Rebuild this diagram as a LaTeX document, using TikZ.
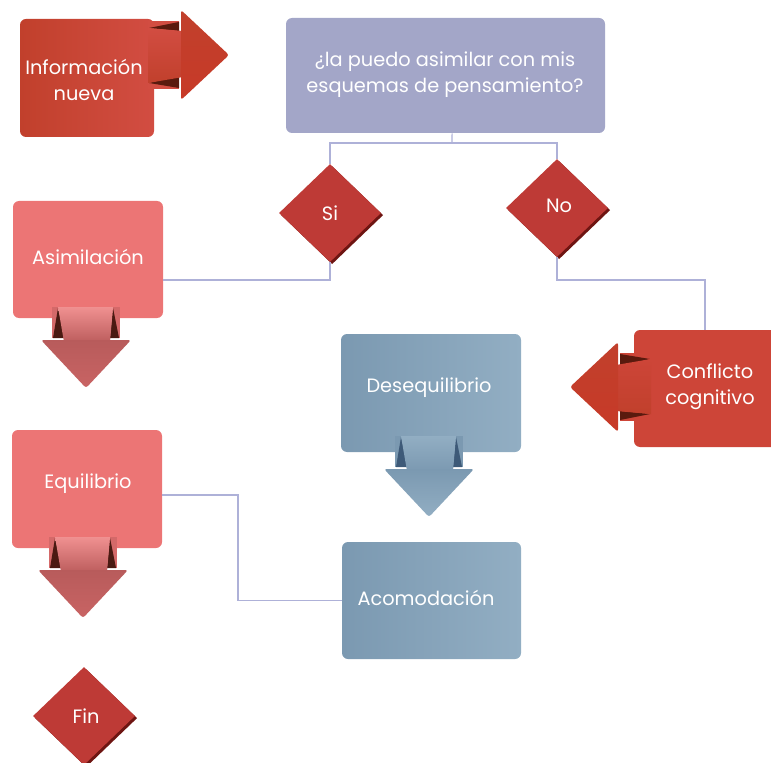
\documentclass[tikz,border=0pt]{standalone}
\usepackage{fontspec}
\setmainfont{Poppins}
\usetikzlibrary{shapes.geometric,shadows,calc}
\definecolor{infoL}{HTML}{C1402C}
\definecolor{infoR}{HTML}{D24D42}
\definecolor{quest}{HTML}{A3A6C8}
\definecolor{pink}{HTML}{EC7575}
\definecolor{conf}{HTML}{CD4538}
\definecolor{blueL}{HTML}{7B99B1}
\definecolor{blueR}{HTML}{92AEC3}
\definecolor{dia}{HTML}{BE3A36}
\definecolor{diashadow}{HTML}{6E1512}
\definecolor{conn}{HTML}{AEB1D8}
\definecolor{redfold}{HTML}{5A1A0E}
\definecolor{pinkfold}{HTML}{4A1A12}
\definecolor{bluefold}{HTML}{3E5A78}
\tikzset{
  pics/ribbon/.style n args={6}{code={
    \fill[#1] (-34,0) rectangle (34,31);
    \fill[#2] (-28,1) -- (-33,31) -- (-21,31) -- cycle;
    \fill[#2] (27,1) -- (24,31) -- (33,31) -- cycle;
    \shade[top color=#3, bottom color=#4] (-28,0) -- (27,0) -- (24,35) -- (-22,35) -- cycle;
    \shade[top color=#5, bottom color=#6, rounded corners=2pt] (-45,33) -- (45,33) -- (0,81) -- cycle;
  }},
  box/.style={rounded corners=4.5pt, inner sep=0pt, text=white},
  txt/.style={text=white, align=center, font=\fontsize{14.5}{19.5}\selectfont, inner sep=0pt},
  dec/.style={diamond, fill=dia, minimum width=76.5pt, minimum height=73.5pt, inner sep=0pt,
    general shadow={fill=diashadow, shadow xshift=1.6pt, shadow yshift=-1.6pt}},
  link/.style={draw=conn, line width=0.8pt}
}
\begin{document}
\begin{tikzpicture}[x=0.75pt,y=-0.75pt]
\useasboundingbox (0,0) rectangle (771,763);
% junction points
\coordinate (qj) at (452,143);
\coordinate (sj) at (330,280);
\coordinate (cj) at (705,280);
\coordinate (ej) at (238,495);
% boxes
\node[box, left color=infoL, right color=infoR, minimum width=100.5pt, minimum height=88.5pt] (info) at (87,78) {};
\node[box, fill=quest, minimum width=239.25pt, minimum height=86.25pt] (q) at (445.5,75.5) {};
\node[box, fill=pink, minimum width=112.5pt, minimum height=87.75pt] (asim) at (88,259.5) {};
\node[box, fill=pink, minimum width=112.5pt, minimum height=88.5pt] (equi) at (87,489) {};
\node[box, fill=conf, minimum width=109.5pt, minimum height=87.75pt] (confl) at (707,388.5) {};
\node[box, left color=blueL, right color=blueR, minimum width=135pt, minimum height=88.5pt] (deseq) at (431,393) {};
\node[box, left color=blueL, right color=blueR, minimum width=134.25pt, minimum height=87.75pt] (acom) at (431.5,600.5) {};
% diamonds
\node[dec] (si) at (330,213) {};
\node[dec] (no) at (557,208) {};
\node[dec] (fin) at (84,716) {};
% connectors
\draw[link] ([xshift=4.9pt]q.south) -- (qj);
\draw[link] (si.north) -- (si.north |- qj) -- (no.north |- qj) -- (no.north);
\draw[link] (si.south) -- (sj) -- (sj -| asim.east);
\draw[link] (no.south) |- (cj) -- (cj |- confl.north);
\draw[link] (ej -| equi.east) -- (ej) |- (acom.west);
% ribbon arrows
\pic[rotate=90] (infoarr) at (148,55) {ribbon={fill=infoR}{redfold}{infoR}{infoL}{infoL}{infoL!90!red}};
\pic[rotate=-90] (confarr) at (651,387) {ribbon={fill=conf}{redfold}{conf}{infoL}{infoL}{infoL!90!red}};
\pic (asimarr) at (86,307) {ribbon={fill=pink!90!black}{pinkfold}{pink!80!white}{pink!80!black}{pink!78!black}{pink!85!black}};
\pic (equiarr) at (83,537) {ribbon={fill=pink!90!black}{pinkfold}{pink!80!white}{pink!80!black}{pink!78!black}{pink!85!black}};
\pic (deseqarr) at (429,436) {ribbon={fill=blueL}{bluefold}{blueR}{blueL}{blueL}{blueR}};
% texts
\node[txt] (infoT) at (84,80) {Información\\nueva};
\node[txt] (qT) at (445,75) {¿la puedo asimilar con mis\\esquemas de pensamiento?};
\node[txt] (asimT) at (88,257) {Asimilación};
\node[txt] (equiT) at (88,484) {Equilibrio};
\node[txt] (confT) at (710,387) {Conflicto\\cognitivo};
\node[txt] (deseqT) at (429,388) {Desequilibrio};
\node[txt] (acomT) at (426,598) {Acomodación};
\node[txt] (siT) at (330,213) {Si};
\node[txt] (noT) at (559,206) {No};
\node[txt] (finT) at (86,716) {Fin};
\end{tikzpicture}
\end{document}
